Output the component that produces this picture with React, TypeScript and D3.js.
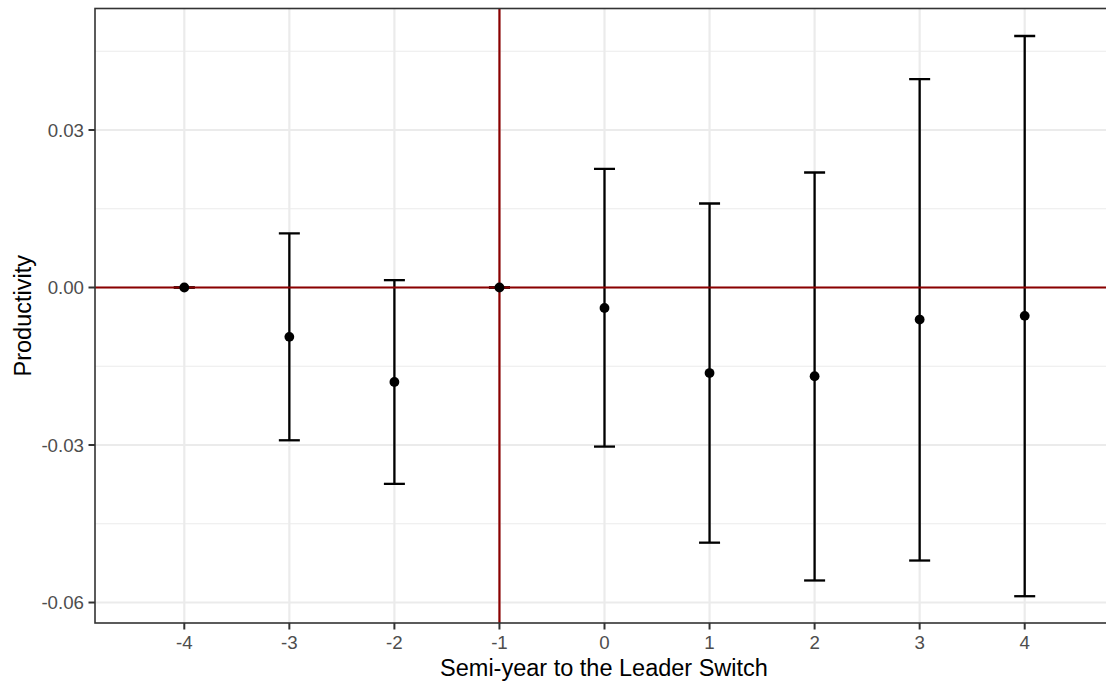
import React from "react";
import * as d3 from "d3";

const periods = [-4, -3, -2, -1, 0, 1, 2, 3, 4];
const estimates = [0, -0.0094, -0.018, 0, -0.0039, -0.0163, -0.0169, -0.0061, -0.0054];
const upperCI = [0, 0.0103, 0.0014, 0, 0.0226, 0.016, 0.0219, 0.0397, 0.0479];
const lowerCI = [0, -0.0291, -0.0374, 0, -0.0303, -0.0486, -0.0558, -0.052, -0.0588];
const yTicks = [-0.06, -0.03, 0, 0.03];
const yMinorTicks = [-0.045, -0.015, 0.015, 0.045];
const xTicks = [-4, -3, -2, -1, 0, 1, 2, 3, 4];
const refX = -1;
const refY = 0;
const xTitle = "Semi-year to the Leader Switch";
const yTitle = "Productivity";

const W = 1106;
const H = 685;
const panel = { left: 95, right: 1114, top: 8.5, bottom: 623 };

export default function App() {
  const x = d3.scaleLinear().domain([-4.85, 4.85]).range([panel.left, panel.right]);
  const y = d3.scaleLinear().domain([-0.0639, 0.05314]).range([panel.bottom, panel.top]);
  const capHalf = x(0.1) - x(0);
  const font = "'Liberation Sans', Arial, Helvetica, sans-serif";
  const grid = "#EBEBEB";
  const dark = "#333333";
  const red = "#8B0000";
  const tickLen = 6.5;

  return (
    <svg
      width={W}
      height={H}
      style={{ position: "absolute", left: 0, top: 0, background: "#fff" }}
      fontFamily={font}
    >
      <defs>
        <clipPath id="panelClip">
          <rect x={panel.left} y={panel.top} width={panel.right - panel.left} height={panel.bottom - panel.top} />
        </clipPath>
      </defs>
      <rect x={0} y={0} width={W} height={H} fill="#fff" />
      <g clipPath="url(#panelClip)">
        {yMinorTicks.map((t) => (
          <line key={"ym" + t} x1={panel.left} x2={panel.right} y1={y(t)} y2={y(t)} stroke={grid} strokeWidth={1.1} />
        ))}
        {yTicks.map((t) => (
          <line key={"yg" + t} x1={panel.left} x2={panel.right} y1={y(t)} y2={y(t)} stroke={grid} strokeWidth={2.2} />
        ))}
        {xTicks.map((t) => (
          <line key={"xg" + t} x1={x(t)} x2={x(t)} y1={panel.top} y2={panel.bottom} stroke={grid} strokeWidth={2.2} />
        ))}
        {periods.map((p, i) => (
          <g key={"eb" + p} stroke="#000" strokeWidth={2.3}>
            <line x1={x(p)} x2={x(p)} y1={y(lowerCI[i])} y2={y(upperCI[i])} />
            <line x1={x(p) - capHalf} x2={x(p) + capHalf} y1={y(upperCI[i])} y2={y(upperCI[i])} />
            <line x1={x(p) - capHalf} x2={x(p) + capHalf} y1={y(lowerCI[i])} y2={y(lowerCI[i])} />
          </g>
        ))}
        <line x1={panel.left} x2={panel.right} y1={y(refY)} y2={y(refY)} stroke={red} strokeWidth={2.2} />
        <line x1={x(refX)} x2={x(refX)} y1={panel.top} y2={panel.bottom} stroke={red} strokeWidth={2.2} />
        {periods.map((p, i) => (
          <circle key={"pt" + p} cx={x(p)} cy={y(estimates[i])} r={4.9} fill="#000" />
        ))}
      </g>
      <rect
        x={panel.left}
        y={panel.top}
        width={panel.right - panel.left}
        height={panel.bottom - panel.top}
        fill="none"
        stroke={dark}
        strokeWidth={1.6}
      />
      {yTicks.map((t) => (
        <g key={"yt" + t}>
          <line x1={panel.left - tickLen} x2={panel.left} y1={y(t)} y2={y(t)} stroke={dark} strokeWidth={2} />
          <text x={panel.left - tickLen - 4.5} y={y(t)} dy="0.36em" textAnchor="end" fontSize={18.7} fill="#4D4D4D">
            {t.toFixed(2)}
          </text>
        </g>
      ))}
      {xTicks.map((t) => (
        <g key={"xt" + t}>
          <line x1={x(t)} x2={x(t)} y1={panel.bottom} y2={panel.bottom + tickLen} stroke={dark} strokeWidth={2} />
          <text x={x(t)} y={648.5} textAnchor="middle" fontSize={18.7} fill="#4D4D4D">
            {String(t)}
          </text>
        </g>
      ))}
      <text x={604} y={675.5} textAnchor="middle" fontSize={23.5} fill="#000">
        {xTitle}
      </text>
      <text
        transform={`translate(${30.5},${(panel.top + panel.bottom) / 2}) rotate(-90)`}
        textAnchor="middle"
        fontSize={23.5}
        fill="#000"
      >
        {yTitle}
      </text>
    </svg>
  );
}
